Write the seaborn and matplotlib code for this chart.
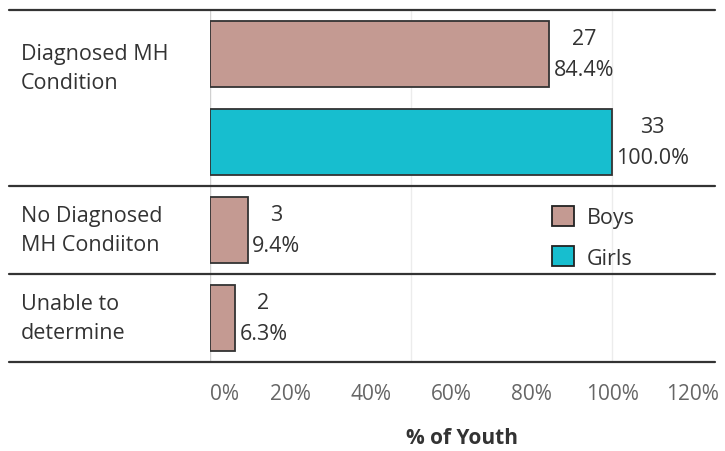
import numpy as np
import pandas as pd
import matplotlib
matplotlib.use("Agg")
import matplotlib.pyplot as plt
import seaborn as sns

# =========================
# DATA
# =========================
groups = ["Diagnosed MH\nCondition", "Diagnosed MH\nCondition",
          "No Diagnosed\nMH Condiiton", "Unable to\ndetermine"]
sexes = ["Boys", "Girls", "Boys", "Boys"]
pcts = [84.4, 100.0, 9.4, 6.3]
counts = [27, 33, 3, 2]
group_labels = ["Diagnosed MH\nCondition", "No Diagnosed\nMH Condiiton", "Unable to\ndetermine"]
tick_vals = [0, 20, 40, 60, 80, 100, 120]

colors = {"Boys": "#c49a92", "Girls": "#17becf"}

df = pd.DataFrame({
    "row": [f"{g}|{s}" for g, s in zip(groups, sexes)],
    "sex": sexes,
    "pct": pcts,
    "count": counts,
})

# =========================
# PLOT
# =========================
sns.set_style("white")
plt.rcParams["font.family"] = ["Open Sans", "DejaVu Sans"]
FS = 15.5

fig = plt.figure(figsize=(7.25, 4.52), dpi=100)
ax = fig.add_axes([210 / 725, 1 - 363 / 452, 505 / 725, 352 / 452])

sns.barplot(data=df, y="row", x="pct", hue="sex", dodge=False,
            palette=colors, width=0.75, edgecolor="#333333", linewidth=1.3,
            saturation=1, ax=ax, orient="h")

ax.set_xlim(0, 125.6)
ax.set_ylim(3.5, -0.5)

# value labels
for i, (p, c) in enumerate(zip(pcts, counts)):
    ax.annotate(f"{c}\n{p:.1f}%", xy=(p, i), xytext=(3, 0), textcoords="offset points",
                ha="left", va="center", multialignment="center",
                fontsize=FS, color="#333333", linespacing=1.6)

# gridlines and spines
for gx in [0, 50, 100]:
    ax.axvline(gx, color="#ececec" if gx else "#d0d0d0", lw=1, zorder=0)
for s in ax.spines.values():
    s.set_visible(False)

# separators
trans = ax.get_yaxis_transform()
for yy in [-0.5, 1.5, 2.5, 3.5]:
    ax.plot([-0.398, 1.0], [yy, yy], transform=trans, color="#333333",
            lw=1.6, clip_on=False)

# group labels on the left
label_y = [0.16, 2.0, 3.0]
for lab, yy in zip(group_labels, label_y):
    ax.text(-0.374, yy, lab, transform=trans, ha="left", va="center",
            fontsize=FS, color="#333333", linespacing=1.55)

ax.set_yticks([])
ax.set_ylabel("")
ax.set_xticks(tick_vals)
ax.set_xticklabels([f"{v}%" for v in tick_vals], color="#666666", fontsize=FS - 0.5)
ax.get_xticklabels()[0].set_ha("left")
ax.tick_params(axis="x", length=0, pad=15)
ax.set_xlabel("% of Youth", fontsize=FS - 0.5, fontweight="bold", color="#333333", labelpad=17)

# legend
handles, labels = ax.get_legend_handles_labels()
for h in handles:
    h.set_edgecolor("#222222")
    h.set_linewidth(1.3)
ax.legend(handles, labels, loc="upper left", bbox_to_anchor=(0.655, 0.475),
          frameon=False, fontsize=FS, handlelength=1.05, handleheight=1.05,
          handletextpad=0.6, labelspacing=0.85, borderpad=0, labelcolor="#333333")

fig.savefig("out.png", dpi=100)
